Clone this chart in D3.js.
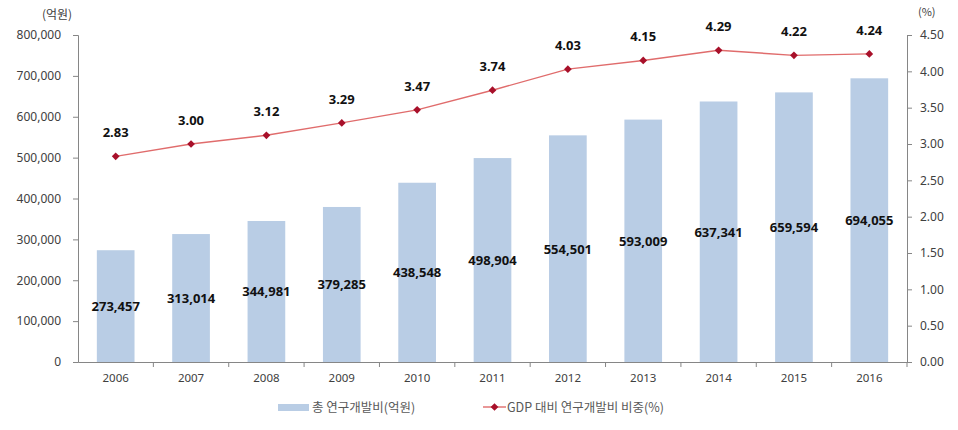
<!DOCTYPE html>
<html><head><meta charset="utf-8">
<script src="https://cdn.jsdelivr.net/npm/d3@7"></script>
<style>body{margin:0;background:#fff;}svg{display:block;font-family:"Malgun Gothic","Noto Sans CJK KR",sans-serif;}</style>
</head><body><svg id="c" width="958" height="430"></svg>
<script>
const years = ["2006","2007","2008","2009","2010","2011","2012","2013","2014","2015","2016"];
const rdTotal = [273457,313014,344981,379285,438548,498904,554501,593009,637341,659594,694055];
const gdpRatio = [2.83,3.00,3.12,3.29,3.47,3.74,4.03,4.15,4.29,4.22,4.24];
const leftTicks = [0,100000,200000,300000,400000,500000,600000,700000,800000];
const rightTicks = [0,0.5,1,1.5,2,2.5,3,3.5,4,4.5];
const legendLabels = ["총 연구개발비(억원)","GDP 대비 연구개발비 비중(%)"];

const svg = d3.select("#c");
const L = 78, R = 907, T = 35, B = 362;
const x = d3.scaleBand().domain(years).range([L, R]).paddingInner(0.5).paddingOuter(0.25);
const xb = d3.scaleBand().domain(years).range([L, R]);
const yL = d3.scaleLinear().domain([0, 800000]).range([B, T]);
const yR = d3.scaleLinear().domain([0, 4.5]).range([B, T]);
const axisCol = "#868686", textCol = "#404040";
const fmt = d3.format(",");

// bars
svg.append("g").selectAll("rect").data(rdTotal).join("rect")
  .attr("x", (d,i)=>x(years[i])).attr("width", x.bandwidth())
  .attr("y", d=>yL(d)).attr("height", d=>B - yL(d)).attr("fill", "#b9cde5");

// left axis
const gl = svg.append("g").attr("transform", `translate(${L},0)`)
  .call(d3.axisLeft(yL).tickValues(leftTicks).tickFormat(fmt).tickSize(5).tickPadding(12));
// right axis
const gr = svg.append("g").attr("transform", `translate(${R},0)`)
  .call(d3.axisRight(yR).tickValues(rightTicks).tickFormat(d3.format(".2f")).tickSize(5).tickPadding(8));
// bottom axis
const gb = svg.append("g").attr("transform", `translate(0,${B})`)
  .call(d3.axisBottom(xb).tickSize(0).tickPadding(12));
gb.selectAll(".tick").append("line").attr("x1", xb.bandwidth()/2).attr("x2", xb.bandwidth()/2).attr("y1",0).attr("y2",5).attr("stroke",axisCol);
[gl,gr,gb].forEach(g=>{
  g.select(".domain").attr("stroke", axisCol);
  g.selectAll(".tick line").attr("stroke", axisCol);
  g.selectAll("text").attr("fill", textCol).style("font-size","12px").style("font-family","'Noto Sans','DejaVu Sans',sans-serif");
});
gb.selectAll("text").style("font-size","11.5px");

// bar labels
svg.append("g").selectAll("text").data(rdTotal).join("text")
  .attr("x", (d,i)=>x(years[i]) + x.bandwidth()/2).attr("y", d=>(yL(d)+B)/2 + 5)
  .attr("text-anchor","middle").attr("font-size","13px").attr("font-weight","bold").attr("fill","#111")
  .style("font-family","'Noto Sans','DejaVu Sans',sans-serif")
  .text(d=>fmt(d));

// line
const line = d3.line().x((d,i)=>xb(years[i]) + xb.bandwidth()/2).y(d=>yR(d));
svg.append("path").datum(gdpRatio).attr("d", line).attr("fill","none").attr("stroke","#e06c6c").attr("stroke-width",1.4);
const diamond = d3.symbol().type(d3.symbolSquare).size(30);
svg.append("g").selectAll("path").data(gdpRatio).join("path")
  .attr("d", diamond).attr("fill","#a8102a")
  .attr("transform",(d,i)=>`translate(${xb(years[i]) + xb.bandwidth()/2},${yR(d)}) rotate(45)`);
svg.append("g").selectAll("text").data(gdpRatio).join("text")
  .attr("x",(d,i)=>xb(years[i]) + xb.bandwidth()/2).attr("y", d=>yR(d) - 19)
  .attr("text-anchor","middle").attr("font-size","13px").attr("font-weight","bold").attr("fill","#111")
  .style("font-family","'Noto Sans','DejaVu Sans',sans-serif")
  .text(d=>d3.format(".2f")(d));

// unit labels
svg.append("text").attr("x", 57).attr("y", 19).attr("text-anchor","middle").attr("font-size","12px").attr("fill",textCol).text("(억원)");
svg.append("text").attr("x", 918).attr("y", 16).attr("font-size","11px").attr("fill",textCol).text("(%)");

// legend
const lg = svg.append("g").attr("transform","translate(0,407)");
lg.append("rect").attr("x",278).attr("y",-3).attr("width",31).attr("height",7).attr("fill","#b9cde5");
lg.append("text").attr("x",312).attr("y",4.5).attr("font-size","12.5px").attr("fill","#595959").text(legendLabels[0]);
lg.append("line").attr("x1",483).attr("x2",506).attr("y1",0).attr("y2",0).attr("stroke","#e06c6c").attr("stroke-width",1.4);
lg.append("path").attr("d",diamond).attr("fill","#a8102a").attr("transform","translate(494.5,0) rotate(45)");
lg.append("text").attr("x",507).attr("y",4.5).attr("font-size","12.5px").attr("fill","#595959").text(legendLabels[1]);
</script></body></html>
